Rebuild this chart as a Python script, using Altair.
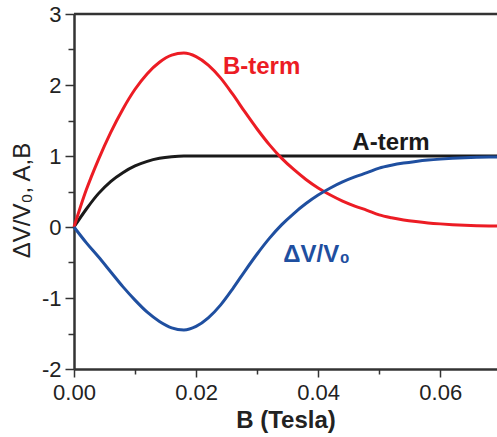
import altair as alt
import pandas as pd

# Field values (Tesla)
b_field = [0.0, 0.002, 0.004, 0.006, 0.008, 0.010, 0.012, 0.014, 0.016, 0.018,
           0.020, 0.022, 0.024, 0.026, 0.028, 0.030, 0.032, 0.034, 0.036, 0.038,
           0.040, 0.042, 0.044, 0.046, 0.048, 0.050, 0.052, 0.054, 0.056, 0.058,
           0.060, 0.062, 0.064, 0.066, 0.068, 0.0693]

a_term = [0.0, 0.25, 0.47, 0.64, 0.765, 0.86, 0.925, 0.967, 0.99, 1.0,
          1.0, 1.0, 1.0, 1.0, 1.0, 1.0, 1.0, 1.0, 1.0, 1.0,
          1.0, 1.0, 1.0, 1.0, 1.0, 1.0, 1.0, 1.0, 1.0, 1.0,
          1.0, 1.0, 1.0, 1.0, 1.0, 1.0]

b_term = [0.0, 0.52, 0.95, 1.33, 1.66, 1.94, 2.16, 2.32, 2.42, 2.45,
          2.40, 2.28, 2.10, 1.87, 1.62, 1.38, 1.16, 0.97, 0.81, 0.67,
          0.55, 0.45, 0.365, 0.295, 0.235, 0.17, 0.13, 0.10, 0.077, 0.058,
          0.044, 0.033, 0.025, 0.019, 0.015, 0.013]

dv_v0 = [0.0, -0.22, -0.42, -0.63, -0.84, -1.03, -1.20, -1.33, -1.42, -1.45,
         -1.40, -1.28, -1.10, -0.87, -0.62, -0.38, -0.16, 0.03, 0.19, 0.33,
         0.45, 0.55, 0.635, 0.705, 0.765, 0.83, 0.87, 0.90, 0.923, 0.942,
         0.956, 0.967, 0.975, 0.981, 0.985, 0.987]

series_names = ["A-term", "B-term", "ΔV/V0"]
series_colors = ["#1a1a1a", "#ec1c24", "#1f4fa0"]

label_text = ["B-term", "A-term", "ΔV/V₀"]
label_series = ["B-term", "A-term", "ΔV/V0"]
label_x = [0.0244, 0.0456, 0.0343]
label_y = [2.26, 1.19, -0.39]

x_domain = [0.0, 0.0693]
y_domain = [-2, 3]
x_major = [0.0, 0.02, 0.04, 0.06]
x_minor = [0.01, 0.03, 0.05]
y_major = [-2, -1, 0, 1, 2, 3]
y_minor = [-1.5, -0.5, 0.5, 1.5, 2.5]

rows = []
for name, vals in zip(series_names, [a_term, b_term, dv_v0]):
    for xv, yv in zip(b_field, vals):
        rows.append({"B": xv, "v": yv, "series": name})
df = pd.DataFrame(rows)

labels_df = pd.DataFrame({"x": label_x, "y": label_y, "t": label_text,
                          "series": label_series})

FONT = "Liberation Sans"
AX = "#333333"
TXT = "#222222"

color_scale = alt.Scale(domain=series_names, range=series_colors)

xs = alt.Scale(domain=x_domain, nice=False, zero=False)
ys = alt.Scale(domain=y_domain, nice=False)

x_axis_major = alt.Axis(values=x_major, format=".2f", title="B (Tesla)",
                        orient="bottom",
                        tickSize=8, tickWidth=1.5, tickColor=AX,
                        domainColor=AX, domainWidth=2.5, grid=False,
                        labelFlush=False, labelOverlap=False,
                        labelFont=FONT, labelFontSize=22, labelColor=TXT,
                        labelPadding=5, titleFont=FONT, titleFontSize=24,
                        titleFontWeight="bold", titleColor=TXT,
                        titleY=39)
y_axis_major = alt.Axis(values=y_major, title="ΔV/V₀, A,B",
                        labelExpr="datum.value < 0 ? '-' + abs(datum.value) : '' + datum.value",
                        orient="left",
                        tickSize=9, tickWidth=1.5, tickColor=AX,
                        domainColor=AX, domainWidth=2.5, grid=False,
                        labelFlush=False, labelOverlap=False,
                        labelFont=FONT, labelFontSize=22, labelColor=TXT,
                        labelPadding=4, titleFont=FONT, titleFontSize=24,
                        titleFontWeight="normal", titleColor=TXT,
                        titleX=-40, titleY=186)

lines = alt.Chart(df).mark_line(strokeWidth=3, interpolate="monotone").encode(
    x=alt.X("B:Q", scale=xs, axis=x_axis_major),
    y=alt.Y("v:Q", scale=ys, axis=y_axis_major),
    color=alt.Color("series:N", scale=color_scale, legend=None),
    detail="series:N",
)

minor_x = alt.Chart(pd.DataFrame({"B": [0.0]})).mark_point(opacity=0).encode(
    x=alt.X("B:Q", scale=xs,
            axis=alt.Axis(values=x_minor, labels=False, title=None,
                          tickSize=5, tickWidth=1.5, tickColor=AX,
                          domain=False, grid=False, orient="bottom")),
)
minor_y = alt.Chart(pd.DataFrame({"v": [0.0]})).mark_point(opacity=0).encode(
    y=alt.Y("v:Q", scale=ys,
            axis=alt.Axis(values=y_minor, labels=False, title=None,
                          tickSize=6, tickWidth=1.5, tickColor=AX,
                          domain=False, grid=False, orient="left")),
)

top_frame = alt.Chart(pd.DataFrame({"a": [0]})).mark_rule(
    color=AX, strokeWidth=2.5).encode(
    x=alt.datum(x_domain[0], scale=xs, axis=None),
    x2=alt.datum(x_domain[1]),
    y=alt.datum(y_domain[1], scale=ys, axis=None),
)

texts = alt.Chart(labels_df).mark_text(
    font=FONT, fontSize=24, fontWeight="bold", align="left",
    baseline="middle").encode(
    x=alt.X("x:Q", scale=xs, axis=None),
    y=alt.Y("y:Q", scale=ys, axis=None),
    text="t:N",
    color=alt.Color("series:N", scale=color_scale, legend=None),
)

chart = alt.layer(lines, minor_x, minor_y, top_frame, texts).resolve_axis(
    x="independent", y="independent"
).properties(
    width=423, height=355,
    autosize=alt.AutoSizeParams(type="none"),
    padding={"left": 74, "top": 14, "right": 0, "bottom": 68},
).configure_view(stroke=None)

chart.save("out.html", embed_options={"renderer": "svg", "actions": False})
